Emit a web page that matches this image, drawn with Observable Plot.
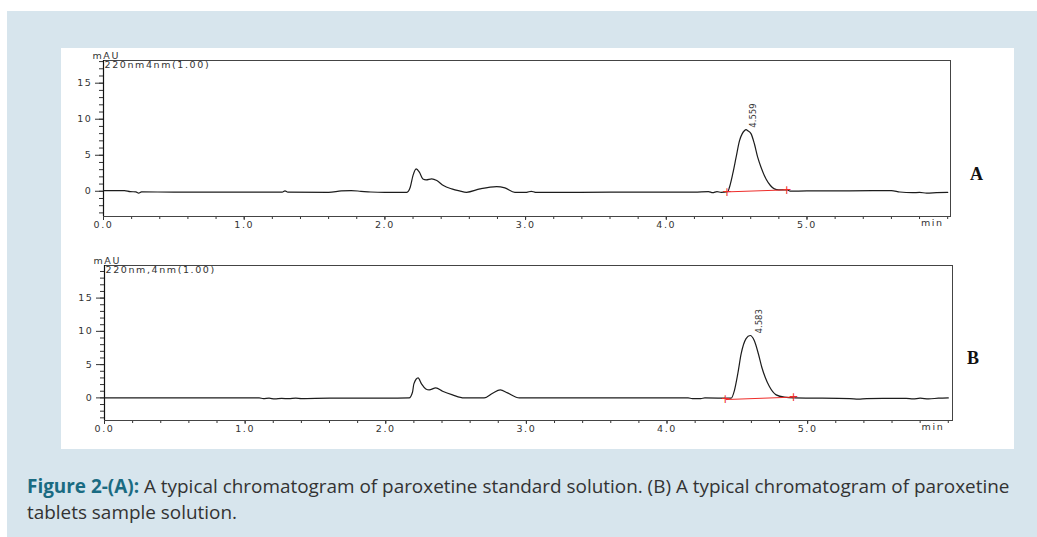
<!DOCTYPE html>
<html><head><meta charset="utf-8">
<script src="https://cdn.jsdelivr.net/npm/d3@7"></script>
<script src="https://cdn.jsdelivr.net/npm/@observablehq/plot@0.6"></script>
<style>
html,body{margin:0;padding:0;background:#fff;width:1037px;height:537px;overflow:hidden;}
#box{position:absolute;left:7px;top:11px;width:1030px;height:526px;background:#d7e5ed;}
#panel{position:absolute;left:61px;top:48px;width:953px;height:401px;background:#fff;}
#panel svg{display:block;}
#panel text{letter-spacing:1.6px;}
#panel text[transform*="rotate"]{letter-spacing:0;}
#caption{position:absolute;left:27px;top:473px;font-family:"Open Sans";font-size:17.5px;line-height:26px;color:#333;white-space:nowrap;}
#caption b{color:#1a6b82;font-weight:700;}
</style></head><body>
<div id="box"></div>
<div id="panel"></div>
<div id="caption"><span id="l1"><b>Figure 2-(A):</b> A typical chromatogram of paroxetine standard solution. (B) A typical chromatogram of paroxetine</span><br>tablets sample solution.</div>
<script>
// ---- data: [time (min), signal (mAU)] ----
const traceA = [
  [0.00,0.10],[0.15,0.10],[0.19,-0.05],[0.23,-0.08],[0.25,-0.25],[0.27,-0.08],[0.50,-0.12],[1.00,-0.12],
  [1.27,-0.12],[1.29,0.05],[1.31,-0.12],[1.60,-0.14],[1.69,0.05],[1.76,0.10],[1.83,0.00],[1.90,-0.10],
  [2.00,-0.14],[2.10,-0.14],[2.156,-0.14],[2.18,0.56],[2.20,2.2],[2.222,3.1],[2.245,2.65],[2.27,1.7],
  [2.293,1.58],[2.333,1.72],[2.369,1.49],[2.416,0.79],[2.475,0.33],[2.53,0.05],[2.58,-0.14],[2.676,0.33],
  [2.794,0.65],[2.853,0.47],[2.924,-0.14],[3.007,-0.14],[3.04,0.00],[3.07,-0.14],[3.385,-0.14],[3.80,-0.12],
  [4.20,-0.12],[4.30,-0.05],[4.33,-0.20],[4.36,-0.05],[4.39,-0.15],[4.437,-0.05],[4.449,0.56],[4.472,2.4],
  [4.496,4.7],[4.52,7.0],[4.54,8.0],[4.555,8.4],[4.567,8.55],[4.58,8.4],[4.603,7.97],[4.626,6.6],
  [4.65,4.7],[4.674,3.3],[4.709,1.7],[4.74,0.8],[4.768,0.33],[4.80,0.20],[4.86,0.20],[4.88,0.02],
  [5.00,0.05],[5.30,0.05],[5.60,0.10],[5.66,-0.10],[5.75,-0.20],[5.80,-0.15],[5.85,-0.25],[5.92,-0.20],[6.00,-0.15]
];
const traceB = [
  [0.00,0.00],[0.50,0.00],[1.10,0.00],[1.13,-0.12],[1.17,-0.05],[1.21,-0.15],[1.26,-0.08],[1.31,-0.12],
  [1.36,-0.05],[1.40,-0.10],[1.60,-0.05],[2.00,-0.05],[2.166,0.00],[2.19,0.85],[2.20,2.1],[2.23,3.0],
  [2.254,2.1],[2.285,1.35],[2.309,1.2],[2.356,1.5],[2.404,1.0],[2.475,0.45],[2.557,0.00],[2.70,0.00],
  [2.76,0.70],[2.814,1.2],[2.866,0.75],[2.95,0.00],[3.50,0.00],[4.15,0.00],[4.18,-0.12],[4.24,-0.10],
  [4.27,0.00],[4.456,-0.05],[4.479,1.1],[4.503,3.6],[4.527,6.6],[4.562,8.9],[4.591,9.38],[4.621,8.6],
  [4.65,6.6],[4.674,4.6],[4.698,3.1],[4.728,1.7],[4.776,0.45],[4.835,0.10],[4.906,0.00],[5.30,-0.10],
  [5.36,-0.20],[5.42,-0.10],[5.70,-0.08],[5.75,-0.15],[5.80,-0.05],[5.86,-0.15],[5.93,-0.05],[6.00,0.00]
];
// integration baselines (start, end)
const baselineA = [[4.437,-0.08],[4.862,0.20]];
const baselineB = [[4.42,-0.25],[4.906,0.12]];
// peak annotations
const peakA = [{t:4.567, v:8.55, label:"4.559"}];
const peakB = [{t:4.591, v:9.38, label:"4.583"}];
// ticks
const majorX = [0,1,2,3,4,5];
const minorX = [0,0.2,0.4,0.6,0.8,1,1.2,1.4,1.6,1.8,2,2.2,2.4,2.6,2.8,3,3.2,3.4,3.6,3.8,4,4.2,4.4,4.6,4.8,5,5.2,5.4,5.6,5.8,6];
const majorY = [0,5,10,15];
const minorYA = [-3,-2,-1,0,1,2,3,4,5,6,7,8,9,10,11,12,13,14,15,16,17,18];
const minorYB = [-3,-2,-1,0,1,2,3,4,5,6,7,8,9,10,11,12,13,14,15,16,17,18,19];
const headerA = "220nm4nm(1.00)";
const headerB = "220nm,4nm(1.00)";
const unitY = "mAU";
const unitX = "min";

const RED = "#ee2d2a";
function chromatogram(o) {
  const data = o.trace.map(([t, v]) => ({t, v}));
  return Plot.plot({
    width: 953, height: o.height,
    marginTop: o.mt, marginBottom: o.mb, marginLeft: o.ml, marginRight: o.mr,
    x: {domain: o.xDomain, label: null},
    y: {domain: o.yDomain, label: null},
    style: {fontFamily: "DejaVu Sans", fontSize: "9.5px", color: "#333", background: "transparent", overflow: "visible"},
    marks: [
      Plot.axisY(o.minorY, {tickSize: 4, tickFormat: () => "", stroke: "#333"}),
      Plot.axisY(majorY, {tickSize: 8, tickPadding: 3, stroke: "#333", fill: "#333"}),
      Plot.axisX(minorX, {tickSize: 3, tickFormat: () => "", stroke: "#333"}),
      Plot.axisX(majorX, {tickSize: 4, tickPadding: 1, tickFormat: d3.format(".1f"), stroke: "#333", fill: "#333"}),
      Plot.frame({stroke: "#444"}),
      Plot.ruleX([0], {stroke: "#111", strokeWidth: 1.2}),
      Plot.line(data, {x: "t", y: "v", curve: "monotone-x", stroke: "#1c1c1c", strokeWidth: 1.2}),
      Plot.line(o.baseline, {x: d => d[0], y: d => d[1], stroke: RED, strokeWidth: 1}),
      Plot.text(o.baseline, {x: d => d[0], y: d => d[1], text: () => "+", fill: RED, fontSize: 12, lineAnchor: "middle"}),
      Plot.text(o.peak, {x: "t", y: "v", text: "label", rotate: -90, textAnchor: "start", lineAnchor: "middle", dx: o.peakDx, dy: -2, fill: "#333", fontSize: 8.5}),
      Plot.text([unitY], {frameAnchor: "top-left", textAnchor: "start", lineAnchor: "bottom", dx: -11, dy: -2, fill: "#333"}),
      Plot.text([o.header], {frameAnchor: "top-left", textAnchor: "start", lineAnchor: "top", dx: 1, dy: 1, fill: "#333"}),
      Plot.text([unitX], {x: () => 6, frameAnchor: "bottom", textAnchor: "end", lineAnchor: "top", dx: -4, dy: 3, fill: "#333"}),
      Plot.text([o.panel], {frameAnchor: "right", dx: o.labelDx, dy: o.labelDy, fontFamily: "Liberation Serif", fontWeight: "bold", fontSize: 18, fill: "#111"})
    ]
  });
}

const plotA = chromatogram({trace: traceA, baseline: baselineA, peak: peakA, header: headerA, panel: "A",
  xDomain: [0, 6.02], yDomain: [-3.5, 18.15], minorY: minorYA,
  height: 192, mt: 12, mb: 24, ml: 42, mr: 64, peakDx: 7, labelDx: 34, labelDy: 36});
const plotB = chromatogram({trace: traceB, baseline: baselineB, peak: peakB, header: headerB, panel: "B",
  xDomain: [0, 6.03], yDomain: [-3.4, 19.9], minorY: minorYB,
  height: 209, mt: 25, mb: 29, ml: 43, mr: 62, peakDx: 9, labelDx: 28, labelDy: 15});
document.getElementById("panel").append(plotA, plotB);

// fit caption first line to the reference width
const l1 = document.getElementById("l1");
const w = l1.getBoundingClientRect().width;
const cap = document.getElementById("caption");
cap.style.fontSize = (17.5 * 983 / w).toFixed(2) + "px";
</script>
</body></html>
